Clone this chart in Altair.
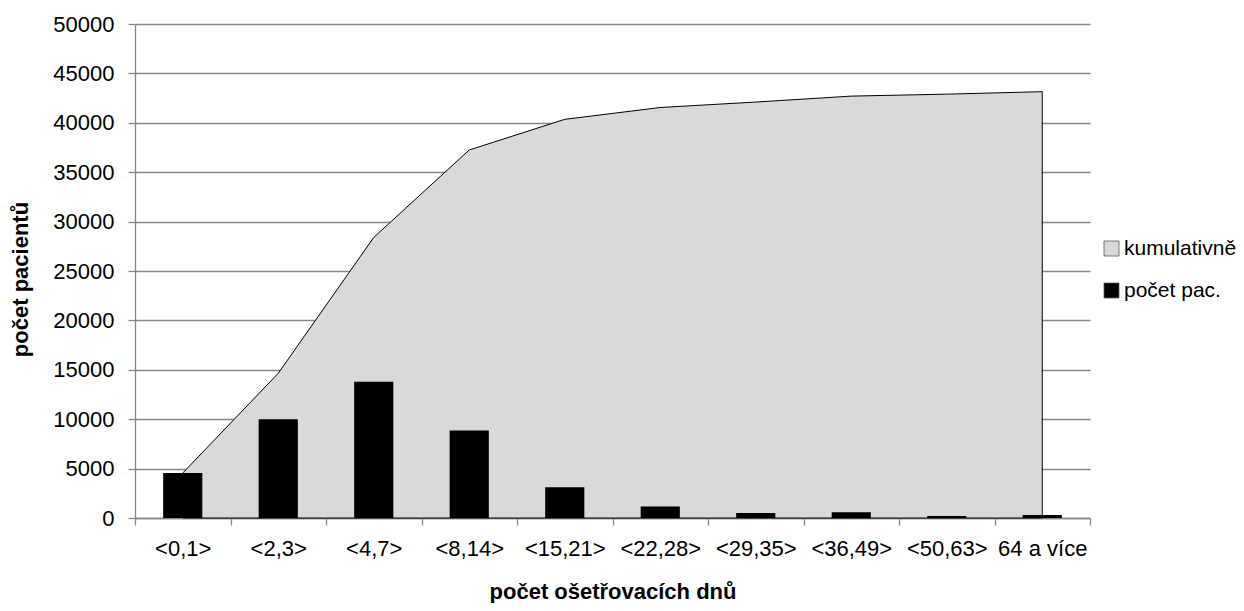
import altair as alt
import pandas as pd

categories = ["<0,1>", "<2,3>", "<4,7>", "<8,14>", "<15,21>", "<22,28>",
              "<29,35>", "<36,49>", "<50,63>", "64 a více"]
pocet_pac = [4550, 10000, 13800, 8850, 3100, 1170, 500, 570, 200, 300]
kumulativne = [4550, 14650, 28400, 37250, 40350, 41550, 42100, 42700, 42900, 43150]
series_names = ["kumulativně", "počet pac."]
series_colors = ["#d9d9d9", "#000000"]
y_ticks = [0, 5000, 10000, 15000, 20000, 25000, 30000, 35000, 40000, 45000, 50000]

df_area = pd.DataFrame({"kat": categories, "hodnota": kumulativne, "rada": series_names[0]})
df_bar = pd.DataFrame({"kat": categories, "hodnota": pocet_pac, "rada": series_names[1]})

FONT = "Liberation Sans"
GRAY = "#878787"

x_enc = alt.X(
    "kat:N", sort=categories, title="počet ošetřovacích dnů",
    scale=alt.Scale(paddingInner=0, paddingOuter=0),
    axis=alt.Axis(labelAngle=0, labelFontSize=22, labelFont=FONT, labelColor="black",
                  tickBand="extent", tickSize=7, tickColor=GRAY, tickWidth=1.3,
                  domainColor=GRAY, domainWidth=1.3, labelPadding=13, labelOverlap=False,
                  grid=False, titleFont=FONT, titleFontSize=22, titleFontWeight="bold",
                  titleColor="black", titleY=80, titleBaseline="alphabetic"),
)
y_enc = alt.Y(
    "hodnota:Q", title="počet pacientů",
    scale=alt.Scale(domain=[0, 50000], nice=False),
    axis=alt.Axis(values=y_ticks, format="d", labelFontSize=22, labelFont=FONT,
                  labelColor="black", tickSize=7, tickColor=GRAY, tickWidth=1.3,
                  domainColor=GRAY, domainWidth=1.3, labelPadding=14, grid=True,
                  gridColor=GRAY, gridWidth=1.3, titleFont=FONT, titleFontSize=22,
                  titleFontWeight="bold", titleColor="black", titleAngle=270,
                  titleX=-115, titleY=255, titleBaseline="middle"),
)
color_enc = alt.Color(
    "rada:N",
    scale=alt.Scale(domain=series_names, range=series_colors),
    legend=alt.Legend(title=None, orient="none", legendX=966, legendY=214,
                      symbolType="square", symbolSize=225, symbolStrokeColor="#595959",
                      symbolStrokeWidth=0.8, labelFontSize=21, labelFont=FONT,
                      labelColor="black", labelOffset=2, rowPadding=20, padding=0,
                      symbolOffset=0),
)

area = alt.Chart(df_area).mark_area(stroke="black", strokeWidth=1, interpolate="linear").encode(
    x=x_enc, y=y_enc, color=color_enc
)
bars = alt.Chart(df_bar).mark_bar(width=alt.RelativeBandSize(0.41)).encode(
    x=x_enc, y=y_enc, color=color_enc
)

chart = alt.layer(area, bars).properties(
    width=955, height=494,
    autosize=alt.AutoSizeParams(type="none"),
    padding={"left": 127, "top": 16, "right": 146, "bottom": 85},
).configure_view(stroke=None)

chart.save("out.html", embed_options={"renderer": "svg", "actions": False})
